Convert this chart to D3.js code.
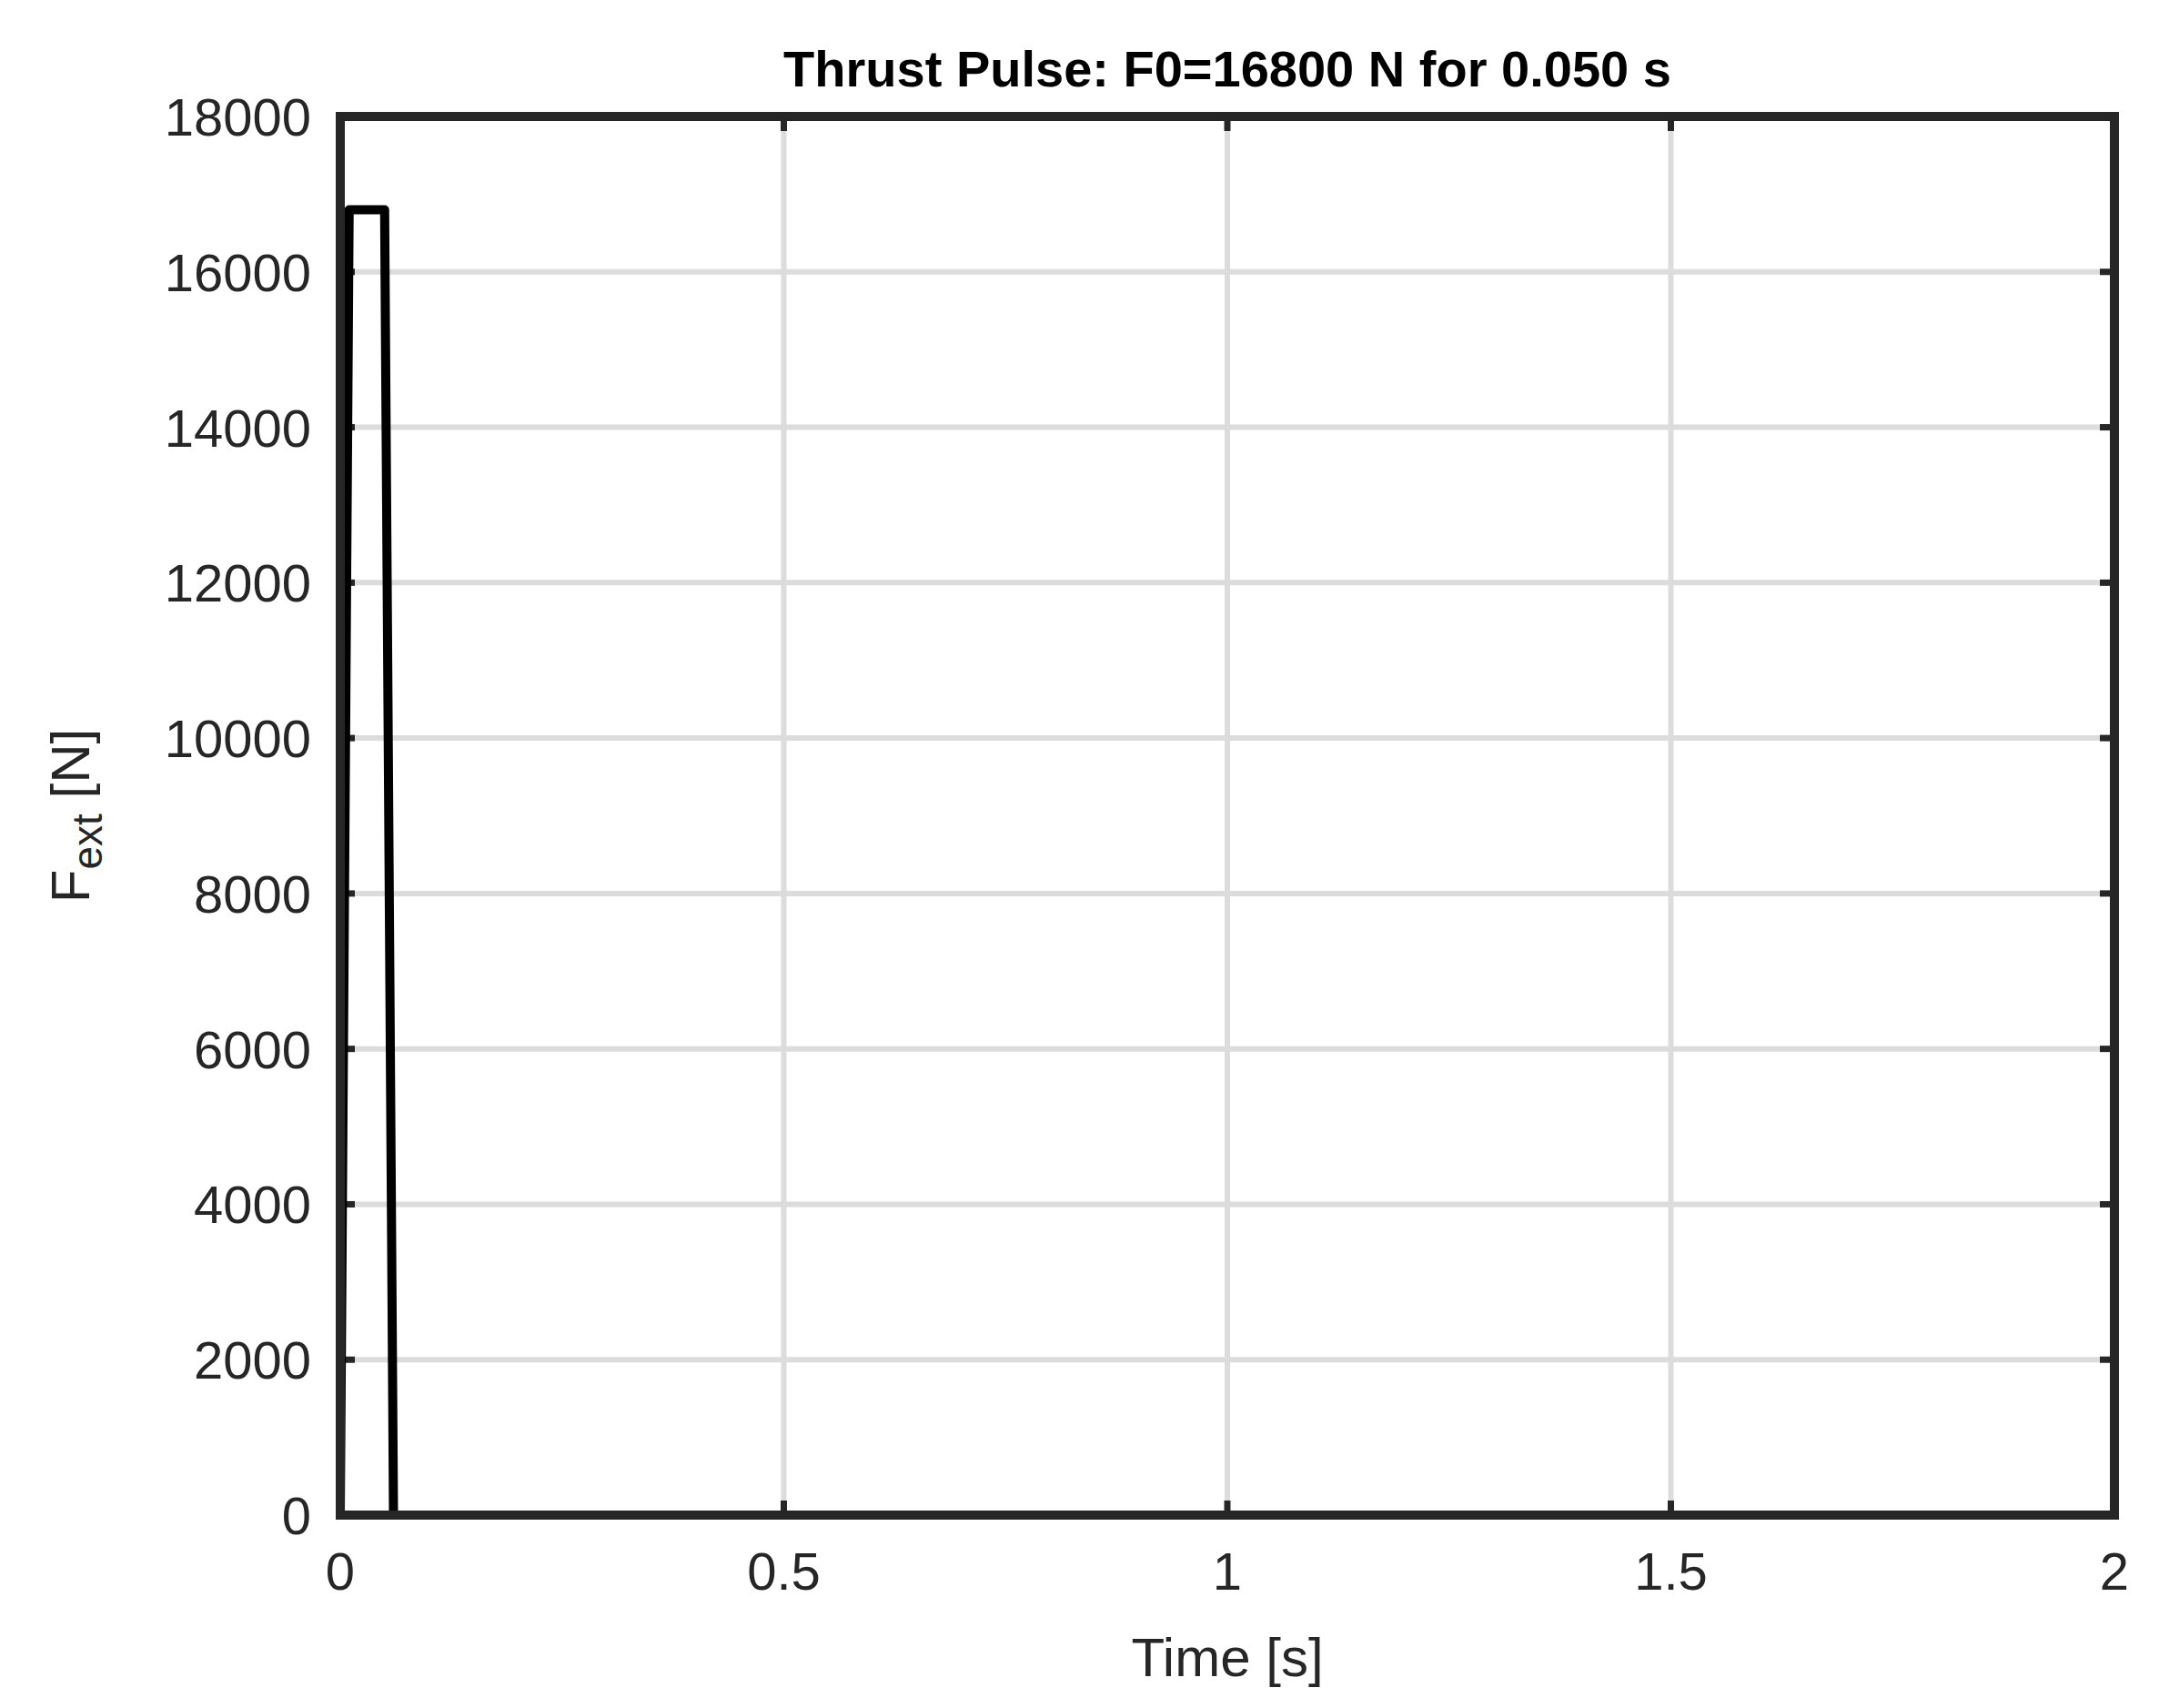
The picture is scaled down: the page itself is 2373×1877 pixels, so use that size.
<!DOCTYPE html><html><head><meta charset="utf-8"><script src="https://cdn.jsdelivr.net/npm/d3@7"></script>
<style>body{margin:0;background:#fff}text{font-family:"Liberation Sans",Arial,sans-serif;fill:#262626}</style></head><body>
<svg id="c" width="2373" height="1877"></svg>
<script>
const times=[0,0.01,0.05,0.06,2];
const forces=[0,16800,16800,0,0];
const xTicks=[0,0.5,1,1.5,2];
const yTicks=[0,2000,4000,6000,8000,10000,12000,14000,16000,18000];
const svg=d3.select("#c");
const L=374,R=2324,T=128,B=1665;
const x=d3.scaleLinear().domain([0,2]).range([L,R]);
const y=d3.scaleLinear().domain([0,18000]).range([B,T]);
const g=svg.append("g");
g.selectAll(".gx").data(xTicks.slice(1,-1)).join("line").attr("x1",d=>x(d)).attr("x2",d=>x(d)).attr("y1",T).attr("y2",B).attr("stroke","#dcdcdc").attr("stroke-width",6);
g.selectAll(".gy").data(yTicks.slice(1,-1)).join("line").attr("y1",d=>y(d)).attr("y2",d=>y(d)).attr("x1",L).attr("x2",R).attr("stroke","#dcdcdc").attr("stroke-width",6);
// ticks
const tl=16;
xTicks.forEach(d=>{g.append("line").attr("x1",x(d)).attr("x2",x(d)).attr("y1",B).attr("y2",B-tl).attr("stroke","#262626").attr("stroke-width",7);
g.append("line").attr("x1",x(d)).attr("x2",x(d)).attr("y1",T).attr("y2",T+tl).attr("stroke","#262626").attr("stroke-width",7);
g.append("text").attr("x",x(d)).attr("y",1747).attr("text-anchor","middle").attr("font-size",58).text(d3.format("~g")(d));});
yTicks.forEach(d=>{g.append("line").attr("y1",y(d)).attr("y2",y(d)).attr("x1",L).attr("x2",L+tl).attr("stroke","#262626").attr("stroke-width",7);
g.append("line").attr("y1",y(d)).attr("y2",y(d)).attr("x1",R).attr("x2",R-tl).attr("stroke","#262626").attr("stroke-width",7);
g.append("text").attr("x",342).attr("y",y(d)+21).attr("text-anchor","end").attr("font-size",58).text(d);});
g.append("path").datum(times.map((t,i)=>[t,forces[i]])).attr("d",d3.line().x(d=>x(d[0])).y(d=>y(d[1]))).attr("fill","none").attr("stroke","#000").attr("stroke-width",10).attr("stroke-linejoin","round");
g.append("rect").attr("x",L).attr("y",T).attr("width",R-L).attr("height",B-T).attr("fill","none").attr("stroke","#262626").attr("stroke-width",10);
svg.append("text").attr("x",(L+R)/2).attr("y",95).attr("text-anchor","middle").attr("font-size",56).attr("font-weight","bold").style("fill","#000").text("Thrust Pulse: F0=16800 N for 0.050 s");
svg.append("text").attr("x",(L+R)/2).attr("y",1842).attr("text-anchor","middle").attr("font-size",60).text("Time [s]");
const yl=svg.append("text").attr("transform","translate(98,"+((T+B)/2)+") rotate(-90)").attr("text-anchor","middle").attr("font-size",60);
yl.append("tspan").text("F");yl.append("tspan").attr("dy",14).attr("font-size",46).text("ext");yl.append("tspan").attr("dy",-14).text("  [N]");
</script></body></html>
